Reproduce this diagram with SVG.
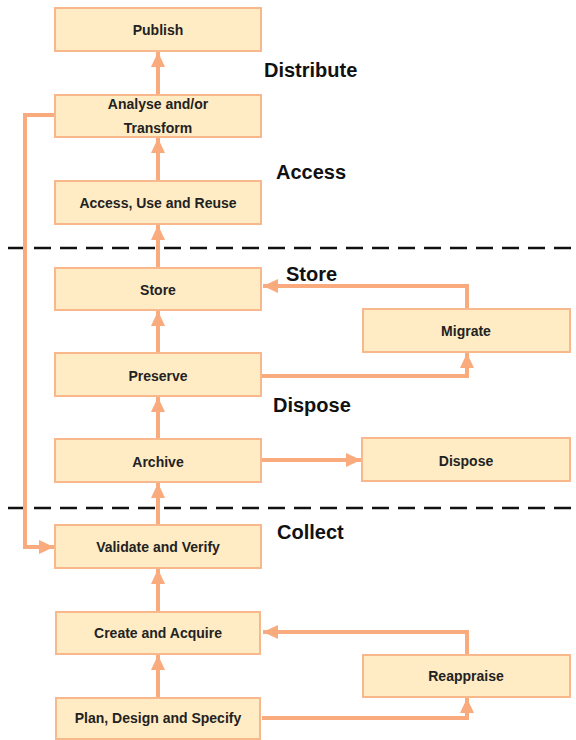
<svg xmlns="http://www.w3.org/2000/svg" width="576" height="740" viewBox="0 0 576 740">
<style>
.box{fill:#ffecc4;stroke:#f9b88c;stroke-width:2}
.bt{font-family:"Liberation Sans",Arial,sans-serif;font-weight:bold;font-size:14px;fill:#222;text-anchor:middle;dominant-baseline:central}
.hd{font-family:"Liberation Sans",Arial,sans-serif;font-weight:bold;font-size:20px;fill:#111}
.cn{fill:none;stroke:#f9ab7e;stroke-width:4}
.dash{stroke:#111;stroke-width:2.5;stroke-dasharray:17 9}
</style>
<defs>
<marker id="ah" markerUnits="userSpaceOnUse" markerWidth="16" markerHeight="16" refX="15" refY="7" orient="auto" viewBox="0 0 16 14">
<path d="M0,0 L15,7 L0,14 Z" fill="#f9ab7e"/>
</marker>
</defs>
<rect width="576" height="740" fill="#fff"/>
<g id="separators">
<line class="dash" x1="8" y1="248" x2="576" y2="248"/>
<line class="dash" x1="8" y1="508" x2="576" y2="508"/>
</g>
<g id="connectors">
<line class="cn" x1="158" y1="94" x2="158" y2="52" marker-end="url(#ah)"/>
<line class="cn" x1="158" y1="180" x2="158" y2="138" marker-end="url(#ah)"/>
<line class="cn" x1="158" y1="267" x2="158" y2="225" marker-end="url(#ah)"/>
<line class="cn" x1="158" y1="352" x2="158" y2="311" marker-end="url(#ah)"/>
<line class="cn" x1="158" y1="438" x2="158" y2="397" marker-end="url(#ah)"/>
<line class="cn" x1="158" y1="524" x2="158" y2="483" marker-end="url(#ah)"/>
<line class="cn" x1="158" y1="611" x2="158" y2="569" marker-end="url(#ah)"/>
<line class="cn" x1="158" y1="697" x2="158" y2="655" marker-end="url(#ah)"/>
<polyline class="cn" points="55,115 25,115 25,547 54,547" marker-end="url(#ah)"/>
<polyline class="cn" points="467,308 467,286 263,286" marker-end="url(#ah)"/>
<polyline class="cn" points="262,376 467,376 467,353" marker-end="url(#ah)"/>
<line class="cn" x1="262" y1="460" x2="361" y2="460" marker-end="url(#ah)"/>
<polyline class="cn" points="467,654 467,632 263,632" marker-end="url(#ah)"/>
<polyline class="cn" points="262,718 467,718 467,698" marker-end="url(#ah)"/>
</g>
<g id="publish"><rect class="box" x="55" y="8" width="206" height="43"/><text class="bt" x="158" y="30">Publish</text></g>
<g id="analyse"><rect class="box" x="55" y="95" width="206" height="42"/><text class="bt" x="158" y="104">Analyse and/or</text><text class="bt" x="158" y="128">Transform</text></g>
<g id="access"><rect class="box" x="55" y="181" width="206" height="43"/><text class="bt" x="158" y="203">Access, Use and Reuse</text></g>
<g id="store"><rect class="box" x="55" y="268" width="206" height="42"/><text class="bt" x="158" y="290">Store</text></g>
<g id="migrate"><rect class="box" x="363" y="309" width="207" height="43"/><text class="bt" x="466" y="331">Migrate</text></g>
<g id="preserve"><rect class="box" x="55" y="353" width="206" height="43"/><text class="bt" x="158" y="376">Preserve</text></g>
<g id="archive"><rect class="box" x="55" y="439" width="206" height="43"/><text class="bt" x="158" y="462">Archive</text></g>
<g id="dispose"><rect class="box" x="362" y="438" width="208" height="43"/><text class="bt" x="466" y="461">Dispose</text></g>
<g id="validate"><rect class="box" x="55" y="525" width="206" height="43"/><text class="bt" x="158" y="547">Validate and Verify</text></g>
<g id="create"><rect class="box" x="56" y="612" width="204" height="42"/><text class="bt" x="158" y="633">Create and Acquire</text></g>
<g id="reappraise"><rect class="box" x="363" y="655" width="207" height="42"/><text class="bt" x="466" y="676">Reappraise</text></g>
<g id="plan"><rect class="box" x="56" y="698" width="204" height="41"/><text class="bt" x="158" y="718">Plan, Design and Specify</text></g>
<g id="labels">
<text class="hd" x="264" y="77">Distribute</text>
<text class="hd" x="276" y="179">Access</text>
<text class="hd" x="286" y="281">Store</text>
<text class="hd" x="273" y="412">Dispose</text>
<text class="hd" x="277" y="539">Collect</text>
</g>
</svg>
